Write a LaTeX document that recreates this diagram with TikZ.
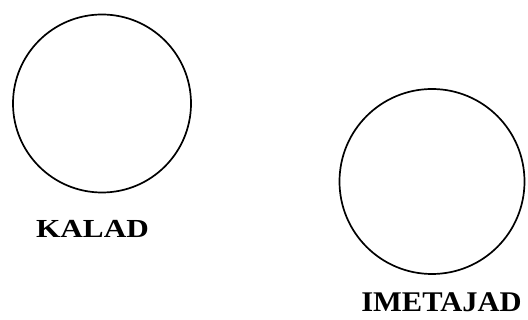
\documentclass[tikz,border=0pt]{standalone}
\usepackage{fontspec}
\setmainfont{Liberation Serif}
\usepackage{graphicx}
\begin{document}
\begin{tikzpicture}[x=1pt,y=-1pt,
  set/.style={draw,circle,line width=1.7pt,inner sep=0pt},
  setname/.style={font=\bfseries\fontsize{26}{30}\selectfont,inner sep=0pt}]

\useasboundingbox (0,0) rectangle (528,320);

%%%%%%%%%%%%%%%%%%%%%%%%
% KALAD
%%%%%%%%%%%%%%%%%%%%%%%%

\node[set,minimum size=178pt](kalad) at (102,103.5) {};
\node[setname](kaladname) at (92.5,228.5) {\scalebox{1.2}[1]{KALAD}};

%%%%%%%%%%%%%%%%%%%%%%%%
% IMETAJAD
%%%%%%%%%%%%%%%%%%%%%%%%

\node[set,minimum size=185pt](imetajad) at (432,181.5) {};
\node[setname,font=\bfseries\fontsize{28.5}{32}\selectfont](imetajadname) at (441.5,302.5) {\scalebox{1.07}[1]{IMETAJAD}};

\end{tikzpicture}
\end{document}
